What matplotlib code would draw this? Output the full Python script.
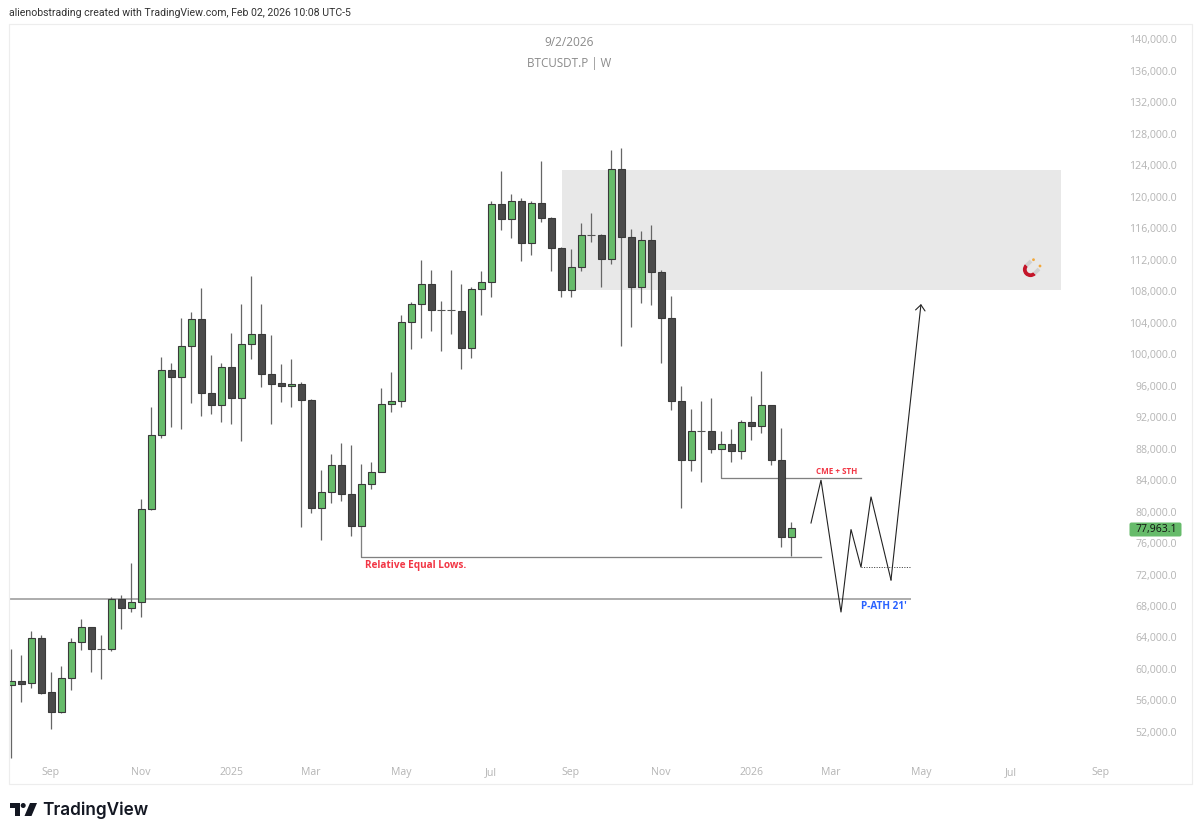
import matplotlib
matplotlib.use("Agg")
import matplotlib.pyplot as plt
from matplotlib.patches import Polygon, Rectangle, FancyBboxPatch, Wedge, Circle

# Weekly BTCUSDT.P candles, first week at index 0 (Aug 2024)
opens = [57930, 58475, 58183, 63898, 57078, 54576, 58818, 63390, 65333, 62577,
         62577, 68851, 67784, 68546, 80281, 89717, 97934, 97121, 101020, 104449,
         95051, 93565, 98315, 94378, 101274, 102506, 97502, 96321, 95902, 96232,
         94162, 80484, 82440, 85869, 82186, 78198, 83532, 84980, 93616, 94073,
         104030, 106354, 108894, 105592, 105592, 105465, 100804, 108259, 109110, 119016,
         117187, 119435, 114101, 119219, 117314, 113466, 108132, 111015, 115117, 115117,
         112107, 123461, 114863, 108551, 114444, 110456, 104576, 94035, 86580, 90187,
         90187, 87939, 88536, 87723, 91406, 90822, 93489, 86504, 76763]
closes = [58475, 58132, 63898, 56989, 54576, 58818, 63390, 65333, 62577, 62600,
          68851, 67784, 68546, 80281, 89717, 97934, 97121, 101020, 104449, 95051,
          93565, 98315, 94378, 101274, 102506, 97502, 96232, 95940, 96156, 94162,
          80484, 82440, 85869, 82186, 78198, 83532, 84980, 93616, 94073, 104030,
          106354, 108894, 105554, 105620, 105427, 100804, 108259, 109110, 119016, 117187,
          119435, 114101, 119219, 117314, 113428, 108132, 111015, 115117, 115140, 112107,
          123461, 114863, 108551, 114444, 110456, 104576, 94035, 86580, 90187, 90210,
          87939, 88536, 87723, 91406, 90822, 93489, 86504, 76763, 77963]
highs = [62500, 61739, 64825, 64279, 59618, 60380, 63898, 66387, 65333, 64317,
         69181, 69397, 73423, 81551, 93311, 99623, 98861, 104614, 105300, 108386,
         99877, 98861, 102633, 106392, 109948, 106392, 102417, 98772, 99407, 96448,
         94289, 85234, 87304, 88701, 88409, 85996, 86326, 95648, 97718, 104919,
         106570, 111904, 110672, 106697, 110634, 108894, 108513, 110507, 119473, 123207,
         120362, 119778, 119435, 124553, 117400, 113555, 113377, 116603, 117873, 115282,
         125912, 126128, 115917, 115587, 116387, 110672, 107370, 95940, 92981, 94073,
         94416, 90187, 90441, 91622, 94670, 97807, 93489, 90568, 78668]
lows = [48658, 55846, 57548, 56786, 52341, 54373, 57332, 62412, 59656, 58767,
        62323, 65079, 67276, 66641, 80192, 89374, 90771, 90479, 93781, 92130,
        92346, 91330, 91114, 88993, 99407, 95851, 91114, 93870, 93235, 78071,
        79849, 76382, 81043, 81373, 76928, 78198, 82897, 84980, 92676, 93235,
        100639, 101998, 102963, 100347, 102544, 98137, 99534, 104957, 107281, 115752,
        114736, 111853, 112615, 116730, 110507, 107281, 107205, 110507, 114266, 108513,
        111472, 100982, 103433, 106519, 106189, 98899, 92930, 80484, 85145, 83710,
        87469, 87939, 86250, 86669, 89082, 90009, 85945, 75531, 74350]

month_ticks = [4, 13, 22, 30, 39, 48, 56, 65, 74, 82, 91, 100, 109]
month_names = ["Sep", "Nov", "2025", "Mar", "May", "Jul", "Sep", "Nov", "2026",
               "Mar", "May", "Jul", "Sep"]
price_ticks = list(range(52000, 140001, 4000))

# Annotations, as (week index, price)
supply_zone = (55.1, 105.0, 108132, 123372)
equal_lows_x = [35, 35, 81]
equal_lows_y = [78198, 74223, 74223]
cme_x = [71, 71, 85]
cme_y = [87939, 84256, 84256]
ath_price = 68889
ath_end = 90
path_x = [80, 81, 83, 84, 85, 86, 88, 91]
path_y = [78541, 84002, 67200, 77741, 72915, 81881, 71302, 106354]
dotted_x = [85, 90]
dotted_y = [72915, 72915]
last_price = 77963.1

W, H = 1200, 836
GREEN, DARK, EDGE = "#66bb6a", "#4a4a4a", "#3a3a3a"
TICK = "#b4b4b4"
px = 0.72  # line width in points for one pixel at 100 dpi

fig = plt.figure(figsize=(W / 100, H / 100), dpi=100, facecolor="white")
L, R, T, B = 9, 1112, 23, 760
ax = fig.add_axes([L / W, 1 - B / H, (R - L) / W, (B - T) / H])
ax.set_xlim((L - 11) / 10, (R - 11) / 10)
ax.set_ylim(68000 + (606 - B) * 127, 68000 + (606 - T) * 127)
for s in ax.spines.values():
    s.set_visible(False)

# Supply zone and structure lines
ax.add_patch(Rectangle((supply_zone[0], supply_zone[2]), supply_zone[1] - supply_zone[0],
                       supply_zone[3] - supply_zone[2], fc="#e8e8e8", ec="none", zorder=1))
ax.hlines(ath_price, ax.get_xlim()[0], ath_end, color="#9a9a9a", lw=1.6 * px, zorder=2)
ax.plot(equal_lows_x, equal_lows_y, color="#808080", lw=1.3 * px, zorder=2)
ax.plot(cme_x, cme_y, color="#808080", lw=1.3 * px, zorder=2)

# Candles
idx = list(range(len(opens)))
ax.vlines(idx, lows, highs, color="#666666", lw=1.25 * px, zorder=3)
for i in idx:
    up = closes[i] >= opens[i]
    bottom = min(opens[i], closes[i])
    height = abs(closes[i] - opens[i])
    if height < 200:
        ax.hlines(opens[i], i - 0.38, i + 0.38, color="#555555", lw=1.1 * px, zorder=4)
        continue
    ax.bar(i, height, bottom=bottom, width=0.7, color=GREEN if up else DARK,
           edgecolor=EDGE, linewidth=1.1 * px, zorder=4)

# Projected path, with an open arrowhead on the final leg
ax.plot(path_x[:-1], path_y[:-1], color="#222222", lw=1.1 * px, zorder=5, solid_joinstyle="miter")
ax.annotate("", xy=(path_x[-1], path_y[-1]), xytext=(path_x[-2], path_y[-2]),
            arrowprops=dict(arrowstyle="->,head_length=0.45,head_width=0.38", color="#222222",
                            lw=1.1 * px, mutation_scale=9, shrinkA=0, shrinkB=0),
            zorder=5)
ax.plot(dotted_x, dotted_y, color="#333333", lw=0.9 * px, ls=(0, (1.2, 1.6)), zorder=5)

# Axis labels
ax.set_xticks(month_ticks, month_names)
ax.tick_params(axis="x", length=0, pad=5, labelcolor=TICK, labelsize=7.6)
for t in ax.get_xticklabels():
    t.set_family("Open Sans")
ax.yaxis.tick_right()
ax.set_yticks(price_ticks, [f"{p:,.1f}" for p in price_ticks])
ax.tick_params(axis="y", length=0, pad=(1177 - R) * px, labelcolor=TICK, labelsize=7.6)
for t in ax.get_yticklabels():
    t.set_ha("right")
    t.set_family("Open Sans")

# Drawing labels
ax.text(35.4, 73200, "Relative Equal Lows.", color="#f23645", fontsize=7.2, fontweight="bold",
        family="Open Sans", va="center", ha="left", zorder=6)
ax.text(80.5, 85060, "CME + STH", color="#f23645", fontsize=5.8, fontweight="bold",
        family="Open Sans", va="center", ha="left", zorder=6)
ax.text(85, 67900, "P-ATH 21'", color="#2962ff", fontsize=7.2, fontweight="bold",
        family="Open Sans", va="center", ha="left", zorder=6)

# Page furniture drawn in pixel coordinates
ov = fig.add_axes([0, 0, 1, 1], facecolor="none")
ov.set_xlim(0, W)
ov.set_ylim(H, 0)
ov.axis("off")
ov.add_patch(Rectangle((8.5, 23.5), 1183, 760, fc="none", ec="#ededed", lw=1.2 * px))
ov.text(9, 12.5, "alienobstrading created with TradingView.com, Feb 02, 2026 10:08 UTC-5",
        fontsize=7.6, family="Roboto", color="#333333", va="center", ha="left")
ov.text(569, 43, "9/2/2026", fontsize=8.6, family="Open Sans", color="#8a8a8a", va="center", ha="center")
ov.text(569, 63, "BTCUSDT.P | W", fontsize=8.4, family="Open Sans", color="#8a8a8a", va="center", ha="center")

# Last price tag
ov.add_patch(FancyBboxPatch((1130, 523), 51, 13, boxstyle="round,pad=0,rounding_size=1.5",
                            fc=GREEN, ec=GREEN, lw=1 * px))
ov.text(1177, 529.5, f"{last_price:,.1f}", fontsize=7.6, family="Open Sans", color="#111111",
        va="center", ha="right")

# Magnet icon in the supply zone
cx, cy = 1030.5, 269.5
ov.add_patch(Wedge((cx, cy), 7.6, 45, 225, width=3.8, fc="#c4162a", ec="none", zorder=3))
for sx, sy in [(cx + 4, cy + 4), (cx - 4, cy - 4)]:
    ov.plot([sx, sx + 4.5], [sy, sy - 4.5], color="#d0d0d0", lw=3.8 * px, solid_capstyle="butt", zorder=3)
ov.add_patch(Circle((cx + 9.5, cy - 3.5), 1.4, fc="#f2a83b", ec="none", zorder=3))
ov.add_patch(Circle((cx + 3, cy - 9.8), 1.4, fc="#f2a83b", ec="none", zorder=3))

# TradingView wordmark
LOGO = "#131722"
ov.add_patch(Polygon([(10, 803), (20, 803), (20, 816), (15.2, 816), (15.2, 808), (10, 808)],
                     closed=True, fc=LOGO, ec="none"))
ov.add_patch(Circle((23.2, 805.5), 2.5, fc=LOGO, ec="none"))
ov.add_patch(Polygon([(30, 803), (37, 803), (31.5, 816), (24.5, 816)], closed=True, fc=LOGO, ec="none"))
ov.text(42.5, 810, "TradingView", fontsize=12.4, family="Inter", fontweight="semibold",
        color=LOGO, va="center", ha="left")

fig.savefig("out.png", dpi=100, facecolor="white")
